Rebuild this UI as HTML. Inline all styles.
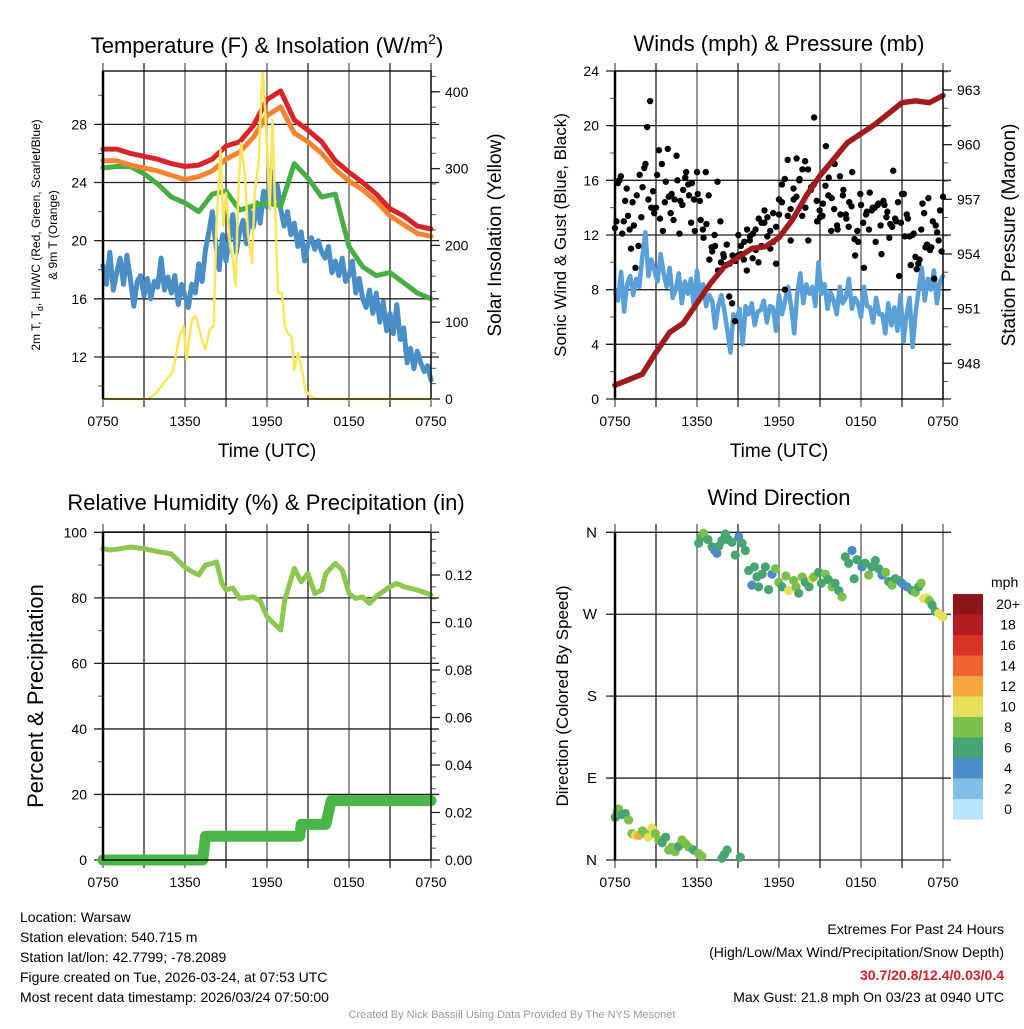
<!DOCTYPE html>
<html><head><meta charset="utf-8"><style>
body{margin:0;background:#fff}
svg text{font-family:"Liberation Sans",sans-serif;fill:#000}
</style></head><body>
<svg id="c" width="1024" height="1024" viewBox="0 0 1024 1024" xmlns="http://www.w3.org/2000/svg">
<rect width="1024" height="1024" fill="#fff"/>
<g id="g"></g>
<text x="267" y="53" font-size="22" text-anchor="middle">Temperature (F) &amp; Insolation (W/m<tspan font-size="14" dy="-9">2</tspan><tspan dy="9">)</tspan></text>
<text x="779" y="51" font-size="22" text-anchor="middle">Winds (mph) &amp; Pressure (mb)</text>
<text x="266" y="510" font-size="22" text-anchor="middle">Relative Humidity (%) &amp; Precipitation (in)</text>
<text x="779" y="505" font-size="22" text-anchor="middle">Wind Direction</text>
<text x="267" y="457" font-size="19" text-anchor="middle">Time (UTC)</text>
<text x="779" y="457" font-size="19" text-anchor="middle">Time (UTC)</text>
<text transform="translate(40,235) rotate(-90)" font-size="12" text-anchor="middle">2m T, T<tspan font-size="9" dy="3">d</tspan><tspan dy="-3">, HI/WC (Red, Green, Scarlet/Blue)</tspan></text>
<text transform="translate(57,235) rotate(-90)" font-size="12" text-anchor="middle">&amp; 9m T (Orange)</text>
<text transform="translate(501,235) rotate(-90)" font-size="19" text-anchor="middle">Solar Insolation (Yellow)</text>
<text transform="translate(566,235) rotate(-90)" font-size="17" text-anchor="middle">Sonic Wind &amp; Gust (Blue, Black)</text>
<text transform="translate(1015,235) rotate(-90)" font-size="19" text-anchor="middle">Station Pressure (Maroon)</text>
<text transform="translate(43,696) rotate(-90)" font-size="22" text-anchor="middle">Percent &amp; Precipitation</text>
<text transform="translate(568,696) rotate(-90)" font-size="17" text-anchor="middle">Direction (Colored By Speed)</text>
<text x="991" y="587" font-size="14">mph</text>
<g font-size="14">
<text x="20" y="922">Location: Warsaw</text>
<text x="20" y="942">Station elevation: 540.715 m</text>
<text x="20" y="962">Station lat/lon: 42.7799; -78.2089</text>
<text x="20" y="982">Figure created on Tue, 2026-03-24, at 07:53 UTC</text>
<text x="20" y="1002">Most recent data timestamp: 2026/03/24 07:50:00</text>
</g>
<g font-size="14" text-anchor="end">
<text x="1004" y="934">Extremes For Past 24 Hours</text>
<text x="1004" y="957">(High/Low/Max Wind/Precipitation/Snow Depth)</text>
<text x="1004" y="980" fill="#d0202a" style="fill:#d0202a;font-weight:bold">30.7/20.8/12.4/0.03/0.4</text>
<text x="1004" y="1002">Max Gust: 21.8 mph On 03/23 at 0940 UTC</text>
</g>
<text x="512" y="1018" font-size="11" text-anchor="middle" style="fill:#999">Created By Nick Bassill Using Data Provided By The NYS Mesonet</text>
</svg>
<script>
// ---- data ----
const xTickLabels = ['0750','1350','1950','0150','0750'];
const redT = [26.3,26.3,26.0,25.8,25.6,25.3,25.1,25.2,25.6,26.5,26.8,27.9,29.7,30.3,28.3,27.6,26.8,25.5,24.7,24.0,23.2,22.2,21.7,21.0,20.8];
const orangeT = [25.5,25.5,25.2,25.0,24.8,24.5,24.2,24.4,24.8,25.6,26.1,27.1,28.6,29.2,27.4,26.8,26.0,24.9,24.1,23.5,22.7,21.7,21.1,20.5,20.3];
const greenTd = [25.0,25.1,25.1,24.6,23.9,23.0,22.6,22.0,23.2,23.4,22.1,22.4,22.6,22.4,25.3,24.3,23.0,23.2,19.6,18.2,17.6,17.8,17.1,16.4,16.0];
const blueWC = [18.3,17.0,19.2,16.6,17.8,18.8,17.0,19.0,17.4,15.5,17.2,17.6,16.2,17.4,16.0,17.2,16.8,18.8,16.6,17.5,16.4,17.6,15.6,17.0,16.2,15.4,17.0,16.4,18.4,17.2,19.4,20.6,22.0,19.8,18.0,20.4,18.6,20.2,21.8,19.2,20.6,21.4,19.8,22.0,20.9,22.6,21.2,23.4,22.3,24.8,22.6,23.8,22.2,21.0,22.0,20.4,21.2,19.6,20.6,18.6,19.8,20.2,19.4,20.0,19.2,18.8,19.6,17.8,18.6,17.6,18.8,17.2,17.6,18.6,16.4,17.4,16.0,15.4,16.6,15.0,16.4,14.4,15.8,13.8,15.0,13.6,15.6,13.2,14.0,11.6,12.6,11.2,12.4,11.6,11.0,11.4,10.4];
const solarHours = [0,3.3,3.9,4.4,5.1,5.6,5.9,6.1,6.5,6.8,7.3,7.5,7.8,8.1,8.3,8.6,8.8,9.0,9.3,9.5,9.7,9.9,10.1,10.4,10.6,10.9,11.1,11.4,11.6,11.7,12.0,12.2,12.4,12.6,12.8,13.1,13.3,13.5,13.8,14.0,14.3,14.6,14.8,15.2,15.6,24];
const solarVals = [0,0,8,20,35,81,95,51,103,108,73,65,90,95,225,325,225,268,199,182,147,268,333,290,216,177,268,312,400,425,333,246,363,246,138,138,95,86,81,38,60,34,12,3,0,0];
const windSpd = [8.0,7.2,9.3,6.4,8.4,9.0,7.6,8.8,8.2,10.4,12.2,9.0,10.2,9.4,8.6,10.6,9.2,8.2,9.6,7.4,8.0,9.2,7.0,8.6,7.7,8.8,6.6,9.4,7.5,8.4,6.8,7.6,7.2,5.2,6.8,7.6,6.5,5.0,3.4,6.2,5.8,6.6,4.0,6.8,6.2,7.0,5.4,6.4,6.5,7.2,5.6,6.8,6.7,5.0,7.6,6.2,7.2,8.2,6.8,4.8,7.7,9.2,7.0,8.4,7.7,8.2,6.8,10.0,7.7,8.4,6.6,7.8,7.2,6.2,8.2,7.0,7.4,8.8,6.6,7.4,7.0,6.0,8.2,6.8,6.7,5.6,7.4,6.2,6.2,4.8,7.0,5.4,6.7,5.0,7.6,4.2,6.2,7.4,3.8,6.4,8.0,9.6,7.2,8.8,8.0,9.4,7.0,8.6,9.0];
const gusts = [12.5,15.8,16.3,13.0,15.4,12.4,14.4,9.6,11.2,13.3,16.9,19.9,21.8,15.2,14.0,18.2,17.2,14.4,18.3,13.6,13.1,17.8,12.1,14.2,16.2,15.7,12.9,14.6,16.6,14.5,12.4,16.6,14.9,11.1,12.0,15.9,13.0,10.6,9.8,7.5,7.0,5.7,10.5,11.2,10.2,9.4,11.6,10.3,12.4,10.0,11.2,12.9,11.9,12.3,11.5,9.9,13.5,15.7,8.0,13.4,11.6,14.6,17.6,16.1,16.8,14.0,11.6,15.5,20.6,13.0,13.3,14.3,18.5,16.2,14.7,17.2,12.4,13.5,15.3,13.2,14.4,16.6,10.5,11.5,14.2,9.6,13.7,15.1,14.0,11.5,14.3,10.6,14.2,13.7,12.8,16.7,13.0,9.0,15.0,11.9,13.2,9.8,12.1,9.5,10.2,14.3,11.1,14.7,11.1,8.8,12.2,13.8,14.8];
const gustsB = [13.0,16.0,12.1,14.5,13.4,11.0,12.7,14.9,16.4,15.5,17.2,14.6,14.0,13.6,16.4,13.2,12.3,15.9,14.8,15.0,14.6,16.0,14.5,15.3,16.6,14.9,15.8,12.3,15.0,13.1,11.8,12.8,10.2,10.8,11.2,9.4,10.0,10.4,11.3,9.9,10.5,10.1,12.0,10.6,11.5,12.4,11.9,12.1,10.9,13.2,12.9,13.8,13.3,11.0,13.6,12.6,14.6,14.4,16.1,17.5,13.9,15.4,14.8,16.0,13.4,17.4,16.8,15.3,15.7,14.5,13.8,13.4,15.6,14.9,12.3,13.9,12.7,16.3,14.9,13.5,12.6,14.1,11.7,12.3,15.0,12.9,13.5,12.4,13.8,14.0,14.2,12.7,14.5,13.3,11.8,12.6,13.2,14.4,12.9,15.0,13.5,11.9,12.0,10.4,9.9,12.4,13.6,11.3,10.9,13.0,12.7,11.6,10.8];
const pressure = [946.8,947.1,947.4,948.6,949.7,950.2,951.3,952.4,953.3,953.8,954.3,954.4,954.9,955.9,957.2,958.3,959.2,960.1,960.6,961.1,961.7,962.3,962.4,962.3,962.7];
const rhHours = [0,0.5,1,2,3,4,5,6,6.5,7,7.5,8,8.3,8.7,9,9.5,10,11,11.5,12,12.5,13,13.3,14,14.5,15,15.5,16,16.3,17,17.5,18,18.5,19,19.5,20,21,21.5,22,23,24];
const rhVals = [95,94.6,94.8,95.5,95,94.1,93.4,89.3,88,87,90,90.5,91,84.4,82.4,83,79.8,80.3,79,74.2,72.2,70.2,79.4,89,84.9,87.4,81.3,82.4,87.4,90.5,88.5,81.3,79.8,80.3,78.3,80.5,83.4,84.4,83.4,82.4,80.9];
const precipHours = [0,7.3,7.5,14.4,14.5,16.3,16.7,24];
const precipVals = [0,0,0.01,0.01,0.015,0.015,0.025,0.025];
const dirHours = [0.02,0.15,0.27,0.5,0.76,1.0,1.24,1.5,1.73,2.0,2.2,2.45,2.7,2.95,3.2,3.45,3.7,3.93,4.15,4.4,4.65,4.9,5.15,5.4,5.75,6.12,6.36,7.83,8.0,8.2,9.17,
 6.12,6.3,6.49,6.8,7.1,7.3,7.46,7.6,7.83,8.07,8.3,8.56,8.8,9.05,9.3,9.54,9.78,10.02,10.2,10.39,10.51,10.76,11.0,11.24,11.49,11.73,11.98,12.22,12.5,12.71,13.07,13.25,13.44,13.7,13.93,14.2,14.41,14.54,14.9,15.1,15.39,15.6,15.88,16.1,16.37,16.61,16.85,17.1,17.34,17.5,17.71,18.07,18.3,18.56,18.8,19.05,19.3,19.54,19.8,20.02,20.27,20.51,20.8,21.0,21.37,21.73,21.98,22.22,22.4,22.59,22.83,23.0,23.2,23.44,23.68,23.98];
const dirVals = [47,52,56,50,51,44,29,27,27,32,29,25,35,29,22,19,25,11,14,9,15,22,18,14,11,7,4,2,6,11,3,
 348,354,359,352,344,340,337,345,351,358,352,349,335,355,348,340,318,302,322,311,300,314,322,297,314,320,305,300,312,296,307,300,293,311,305,300,309,311,316,304,314,308,300,304,296,289,333,326,340,309,330,322,326,313,322,329,320,313,316,306,302,309,307,304,300,296,294,300,304,287,288,285,280,273,271,267,274,275];
const dirSpeeds = [6.5,8.5,8.5,6.5,6.5,8.5,8.5,10.5,12.5,8.5,8.5,10.5,10.5,8.5,8.5,6.5,6.5,8.5,8.5,8.5,6.5,8.5,8.5,8.5,6.5,8.5,8.5,6.5,6.5,6.5,6.5,
 6.5,6.5,8.5,6.5,6.5,4.5,4.5,6.5,6.5,6.5,6.5,6.5,6.5,4.5,6.5,6.5,6.5,4.5,6.5,6.5,6.5,6.5,6.5,6.5,4.5,8.5,8.5,6.5,8.5,10.5,8.5,8.5,6.5,8.5,6.5,6.5,10.5,8.5,6.5,6.5,8.5,6.5,8.5,6.5,6.5,8.5,6.5,6.5,4.5,6.5,6.5,4.5,6.5,8.5,6.5,6.5,6.5,4.5,8.5,6.5,8.5,6.5,6.5,4.5,4.5,6.5,8.5,6.5,8.5,10.5,10.5,8.5,6.5,6.5,10.5,10.5];
const cbLabels = ['20+','18','16','14','12','10','8','6','4','2','0'];
const cbColors = ['#8e1518','#b71c22','#d93328','#f06230','#f7a441','#e6df5a','#7bc04a','#47a571','#4a8dc6','#82bde6','#b8e3f8'];
const dirLabels = ['N','W','S','E','N'];

// ---- helpers ----
const NS='http://www.w3.org/2000/svg';
const G=document.getElementById('g');
function mk(tag,attrs,parent){const e=document.createElementNS(NS,tag);for(const k in attrs)e.setAttribute(k,attrs[k]);(parent||G).appendChild(e);return e;}
const PW=328;
function xs(off){return h=>off+h*PW/24;}
const xL=xs(103), xR=xs(615);
function evenHours(n){const a=[];for(let i=0;i<n;i++)a.push(i*24/(n-1));return a;}

function frame(x0,y0,name){
  for(let i=0;i<=8;i++){const x=x0+i*41;
    const l=mk('line',{x1:x,x2:x,y1:y0-8,y2:y0+PW+8,stroke:i%2?'#333':'#666','stroke-width':1.4});
    }
  xTickLabels.forEach((t,i)=>{const tx=mk('text',{x:x0+i*82,y:y0+PW+27,'font-size':14,'text-anchor':'middle'});tx.textContent=t;
    });
}
function border(x0,y0,name){
  const r=mk('rect',{x:x0,y:y0,width:PW,height:PW,fill:'none',stroke:'#000','stroke-width':1.3});
  
  mk('line',{x1:x0,x2:x0,y1:y0,y2:y0+PW,stroke:'#000','stroke-width':2.5});
}
function yAxisLeft(x0,y0,vals,minors,ys,fmt,name,grid){
  minors.forEach(v=>mk('line',{x1:x0-5,x2:x0,y1:ys(v),y2:ys(v),stroke:'#555','stroke-width':1}));
  vals.forEach(v=>{const y=ys(v);
    mk('line',{x1:x0-9,x2:grid?x0+PW+8:x0,y1:y,y2:y,stroke:'#222','stroke-width':1.3});
    const t=mk('text',{x:x0-16,y:y+5,'font-size':14,'text-anchor':'end'});t.textContent=fmt(v);
    });
}
function yAxisRight(x1,vals,minors,ys,fmt,name){
  minors.forEach(v=>mk('line',{x1:x1,x2:x1+5,y1:ys(v),y2:ys(v),stroke:'#555','stroke-width':1}));
  vals.forEach(v=>{const y=ys(v);mk('line',{x1:x1,x2:x1+9,y1:y,y2:y,stroke:'#222','stroke-width':1.3});
    const t=mk('text',{x:x1+14,y:y+5,'font-size':14});t.textContent=fmt(v);
    });
}
function range(a,b,s){const r=[];for(let v=a;v<=b+1e-9;v+=s)r.push(+v.toFixed(4));return r;}
function line(hours,vals,xf,yf,color,w,name,clip){
  const d=hours.map((h,i)=>(i?'L':'M')+xf(h).toFixed(1)+','+yf(vals[i]).toFixed(1)).join('');
  const p=mk('path',{d:d,fill:'none',stroke:color,'stroke-width':w,'stroke-linejoin':'round','stroke-linecap':'round'});
  if(clip)p.setAttribute('clip-path',clip);
  return p;
}
const defs=mk('defs',{});
[['cTL',103,71],['cTR',615,71],['cBL',103,532]].forEach(([id,x,y])=>{const c=mk('clipPath',{id:id},defs);mk('rect',{x:x-6,y:y,width:PW+12,height:PW},c);});

// ---- top-left: temperature ----
const yT=v=>399-(v-9.11)*14.54, yS=w=>399-w*0.768;
frame(103,71,'temp');
yAxisLeft(103,71,[12,16,20,24,28],range(10,30,2),yT,v=>v,'temp',true);
yAxisRight(431,[0,100,200,300,400],range(0,420,20),yS,v=>v,'solar');
line(evenHours(blueWC.length),blueWC,xL,yT,'#4a8ec8',5,'windchill-line','url(#cTL)');
line(evenHours(greenTd.length),greenTd,xL,yT,'#46ae42',5,'dewpoint-line','url(#cTL)');
line(evenHours(orangeT.length),orangeT,xL,yT,'#f78430',5,'temp-9m-line','url(#cTL)');
line(evenHours(redT.length),redT,xL,yT,'#d9242a',5,'temp-2m-line','url(#cTL)');
line(solarHours,solarVals,xL,yS,'#fbe55a',2.5,'solar-line');
border(103,71,'temp');

// ---- top-right: winds ----
const yW=v=>399-v*13.667, yP=p=>399-(p-946.04)*18.22;
frame(615,71,'wind');
yAxisLeft(615,71,[0,4,8,12,16,20,24],range(0,24,2),yW,v=>v,'wind',true);
yAxisRight(943,[948,951,954,957,960,963],range(947,964,1),yP,v=>v,'pressure');
line(evenHours(windSpd.length),windSpd,xR,yW,'#5aa0d8',4.5,'wind-speed-line','url(#cTR)');
const gh=evenHours(gusts.length);
gusts.forEach((g,i)=>{const c=mk('circle',{cx:xR(gh[i]),cy:yW(g),r:3.2,fill:'#000'});
  });
const ghB=evenHours(gustsB.length+1);
gustsB.forEach((g,i)=>{const c=mk('circle',{cx:xR((ghB[i]+ghB[i+1])/2),cy:yW(g),r:3.2,fill:'#000'});
  });
line(evenHours(pressure.length),pressure,xR,yP,'#a01c1c',5.5,'pressure-line','url(#cTR)');
border(615,71,'wind');

// ---- bottom-left: humidity ----
const yRH=v=>860-v*3.277, yPr=p=>860-p*2375;
frame(103,532,'rh');
yAxisLeft(103,532,[0,20,40,60,80,100],range(0,100,10),yRH,v=>v,'rh',true);
yAxisRight(431,[0,0.02,0.04,0.06,0.08,0.1,0.12],range(0,0.135,0.005),yPr,v=>v.toFixed(2),'precip');
line(rhHours,rhVals,xL,yRH,'#8cc84e',5,'humidity-line');
line(precipHours,precipVals,xL,yPr,'#4bb548',11,'precip-line');
border(103,532,'rh');

// ---- bottom-right: direction ----
const yD=d=>860-d*0.9103;
frame(615,532,'dir');
dirLabels.forEach((t,i)=>{const y=yD(360-i*90);
  mk('line',{x1:606,x2:951,y1:y,y2:y,stroke:'#222','stroke-width':1.3});
  const tx=mk('text',{x:597,y:y+5,'font-size':15,'text-anchor':'end'});tx.textContent=t;
  });
function spColor(s){return cbColors[10-Math.min(10,Math.floor(s/2))];}
dirHours.forEach((h,i)=>{const c=mk('circle',{cx:xR(h),cy:yD(dirVals[i]),r:4.6,fill:spColor(dirSpeeds[i])});
  });
mk('line',{x1:615,x2:615,y1:532,y2:860,stroke:'#000','stroke-width':2.5});
cbLabels.forEach((t,i)=>{const y=594+i*20.5;
  const r=mk('rect',{x:953,y:y,width:30,height:20.6,fill:cbColors[i]});
  
  const tx=mk('text',{x:1008,y:y+15,'font-size':14,'text-anchor':'middle'});tx.textContent=t;
  });
</script>
</body></html>
